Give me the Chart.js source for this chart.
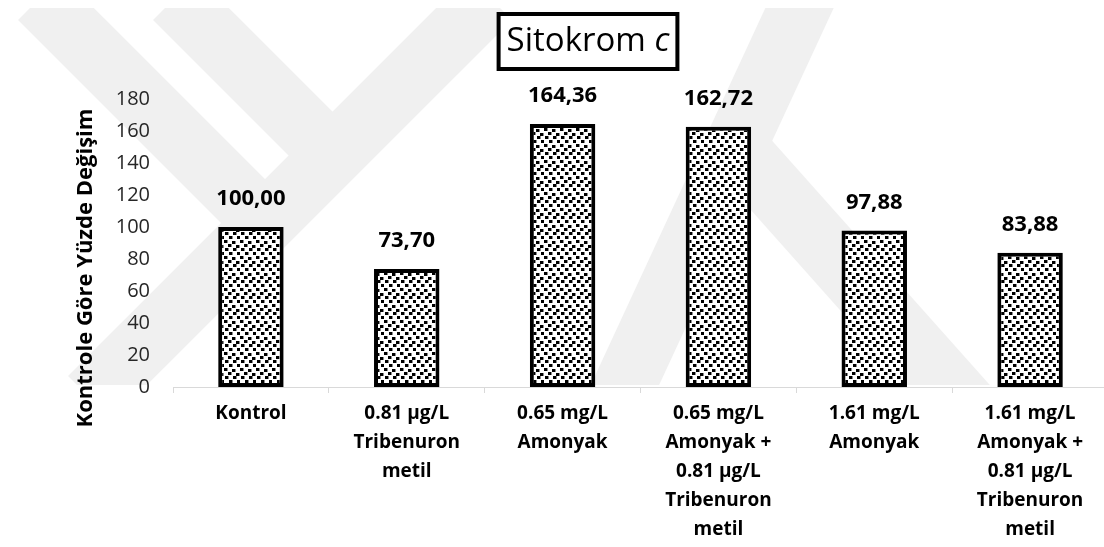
<!DOCTYPE html>
<html>
<head>
<meta charset="utf-8">
<script src="https://cdn.jsdelivr.net/npm/chart.js@4.4.1/dist/chart.umd.min.js"></script>
<style>
  html, body { margin: 0; padding: 0; background: #fff; overflow: hidden; }
  #wrap { width: 1110px; height: 547px; }
</style>
</head>
<body>
<div id="wrap"><canvas id="bar-chart" width="1110" height="547"></canvas></div>
<script>
let categories = [
  ['Kontrol'],
  ['0.81 µg/L', 'Tribenuron', 'metil'],
  ['0.65 mg/L', 'Amonyak'],
  ['0.65 mg/L', 'Amonyak +', '0.81 µg/L', 'Tribenuron', 'metil'],
  ['1.61 mg/L', 'Amonyak'],
  ['1.61 mg/L', 'Amonyak +', '0.81 µg/L', 'Tribenuron', 'metil'],
];
let values = [100.00, 73.70, 164.36, 162.72, 97.88, 83.88];
let yTicks = [0, 20, 40, 60, 80, 100, 120, 140, 160, 180];
let chartTitle = 'Sitokrom ';
let titleSymbol = 'c';
let yTitle = 'Kontrole Göre Yüzde Değişim';

let fontName = '"Open Sans"';

// dotted fill like the excel "confetti" pattern
function makePattern() {
  let tile = document.createElement('canvas');
  tile.width = 16;
  tile.height = 16;
  let g = tile.getContext('2d');
  g.fillStyle = '#fff';
  g.fillRect(0, 0, 16, 16);
  g.fillStyle = '#000';
  let dots = [[0, 0], [8, 1], [4, 4], [12, 5], [1, 8], [9, 8], [5, 12], [13, 12]];
  dots.forEach(d => g.fillRect(d[0], d[1], 3, 3));
  g.fillStyle = 'rgba(0,0,0,0.45)';
  dots.forEach(d => g.fillRect(d[0] + 3, d[1], 1, 3));
  return g.createPattern(tile, 'repeat');
}

function band(ctx, x1, y1, x2, y2, w) {
  ctx.beginPath();
  ctx.moveTo(x1, y1);
  ctx.lineTo(x2, y2);
  ctx.lineWidth = w;
  ctx.stroke();
}

// faint watermark behind the chart
let watermark = {
  id: 'watermark',
  beforeDraw(chart) {
    let ctx = chart.ctx;
    ctx.save();
    ctx.fillStyle = '#fff';
    ctx.fillRect(0, 0, chart.width, chart.height);
    ctx.beginPath();
    ctx.rect(0, 8, chart.width, 377);
    ctx.clip();
    ctx.strokeStyle = '#f0f0f0';
    ctx.lineCap = 'butt';
    band(ctx, 490, -2, 90, 398, 62);
    band(ctx, 40, -2, 278, 236, 62);
    band(ctx, 175, -2, 332, 155, 62);
    band(ctx, 806, -6, 618, 400, 62);
    band(ctx, 730, 140, 975, 415, 62);
    ctx.restore();
  }
};

let labelsAndTitle = {
  id: 'labelsAndTitle',
  afterDatasetsDraw(chart) {
    let ctx = chart.ctx;
    let meta = chart.getDatasetMeta(0);
    ctx.save();
    ctx.font = 'bold 22px ' + fontName;
    ctx.fillStyle = '#000';
    ctx.textAlign = 'center';
    ctx.textBaseline = 'middle';
    meta.data.forEach((bar, i) => {
      ctx.fillText(values[i].toFixed(2).replace('.', ','), bar.x, bar.y - 28);
    });

    // y axis title
    ctx.save();
    ctx.translate(86, 268);
    ctx.rotate(-Math.PI / 2);
    ctx.font = 'bold 22px ' + fontName;
    ctx.fillText(yTitle, 0, 0);
    ctx.restore();

    // boxed chart title
    let normalFont = '33px ' + fontName;
    let italicFont = 'italic 33px ' + fontName;
    ctx.font = normalFont;
    let w1 = ctx.measureText(chartTitle).width;
    ctx.font = italicFont;
    let w2 = ctx.measureText(titleSymbol).width;
    let cx = 588, cy = 42;
    let boxW = w1 + w2 + 16;
    ctx.lineWidth = 4;
    ctx.strokeStyle = '#000';
    ctx.fillStyle = '#fff';
    ctx.fillRect(cx - boxW / 2, 14, boxW, 55);
    ctx.strokeRect(cx - boxW / 2, 14, boxW, 55);
    ctx.fillStyle = '#000';
    ctx.textAlign = 'left';
    let x0 = cx - (w1 + w2) / 2;
    ctx.font = normalFont;
    ctx.fillText(chartTitle, x0, cy);
    ctx.font = italicFont;
    ctx.fillText(titleSymbol, x0 + w1, cy);
    ctx.restore();
  }
};

let barChart = document.getElementById('bar-chart');

new Chart(barChart, {
  type: 'bar',
  data: {
    labels: categories,
    datasets: [
      {
        label: 'Sitokrom c',
        data: values,
        backgroundColor: makePattern(),
        borderColor: '#000',
        borderWidth: 4,
        borderSkipped: false,
        categoryPercentage: 1,
        barPercentage: 0.42,
      },
    ],
  },
  options: {
    responsive: false,
    animation: false,
    devicePixelRatio: 1,
    layout: {
      padding: { top: 99, right: 2, left: 0, bottom: 0 },
    },
    plugins: {
      legend: { display: false },
      tooltip: { enabled: false },
    },
    scales: {
      x: {
        offset: true,
        grid: {
          display: true,
          offset: true,
          drawOnChartArea: false,
          drawTicks: true,
          tickLength: 6,
          color: '#d9d9d9',
        },
        border: { display: true, color: '#d9d9d9', width: 1 },
        ticks: {
          color: '#000',
          padding: 6,
          maxRotation: 0,
          autoSkip: false,
          font: { family: 'Open Sans', size: 19, weight: 'bold', lineHeight: 1.53 },
        },
        afterFit: (scale) => { scale.height = 160; },
      },
      y: {
        min: yTicks[0],
        max: yTicks[yTicks.length - 1],
        grid: { display: false, drawTicks: false },
        border: { display: false },
        ticks: {
          stepSize: yTicks[1] - yTicks[0],
          color: '#262626',
          padding: 23,
          font: { family: 'Open Sans', size: 20 },
        },
        afterFit: (scale) => { scale.width = 173; },
      },
    },
  },
  plugins: [watermark, labelsAndTitle],
});
</script>
</body>
</html>
